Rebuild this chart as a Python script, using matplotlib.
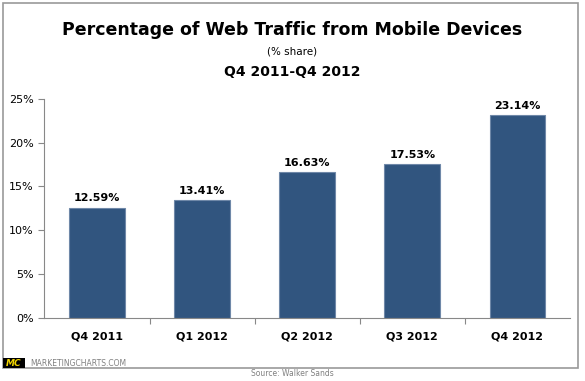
import matplotlib.pyplot as plt
from matplotlib.patches import Rectangle

quarters = ['Q4 2011', 'Q1 2012', 'Q2 2012', 'Q3 2012', 'Q4 2012']
share = [12.59, 13.41, 16.63, 17.53, 23.14]
yticks = [0, 5, 10, 15, 20, 25]

fig = plt.figure(figsize=(5.85, 3.81), dpi=100)
fig.patch.set_facecolor('white')

# outer frame
fig.add_artist(Rectangle((3 / 585, 1 - 368 / 381), 575 / 585, 365 / 381,
                         transform=fig.transFigure, fill=False,
                         edgecolor='#999999', linewidth=1.2))

fig.text(0.5, 1 - 30 / 381, 'Percentage of Web Traffic from Mobile Devices',
         ha='center', va='center', fontsize=12.5, fontweight='bold')
fig.text(0.5, 1 - 51 / 381, '(% share)', ha='center', va='center', fontsize=7.5)
fig.text(0.5, 1 - 72.5 / 381, 'Q4 2011-Q4 2012', ha='center', va='center',
         fontsize=10, fontweight='bold')

ax = fig.add_axes([44.5 / 585, 1 - 317.7 / 381, 525.5 / 585, 218.7 / 381])
x = range(len(quarters))
bars = ax.bar(x, share, width=0.53, color='#31557f', edgecolor='#6f88a8', linewidth=0.8)
for b, v in zip(bars, share):
    ax.text(b.get_x() + b.get_width() / 2, v + 0.5, f'{v:.2f}%', ha='center',
            va='bottom', fontsize=8, fontweight='bold')

ax.set_xlim(-0.5, len(quarters) - 0.5)
ax.set_ylim(0, 25)
ax.set_yticks(yticks)
ax.set_yticklabels([f'{t}%' for t in yticks], fontsize=8)
ax.set_xticks([i + 0.5 for i in range(len(quarters) - 1)], minor=False)
ax.set_xticklabels([])
ax.set_xticks(list(x), minor=True)
ax.set_xticklabels(quarters, minor=True, fontsize=8, fontweight='bold')
ax.tick_params(axis='x', which='minor', length=0, pad=10)
ax.tick_params(axis='x', which='major', length=4, color='#888888', direction='out')
ax.tick_params(axis='y', length=4, color='#888888', pad=4)
for s in ['top', 'right']:
    ax.spines[s].set_visible(False)
for s in ['left', 'bottom']:
    ax.spines[s].set_color('#888888')

# footer
fig.add_artist(Rectangle((3 / 585, 1 - 368 / 381), 22 / 585, 10 / 381,
                         transform=fig.transFigure, facecolor='black', edgecolor='none'))
fig.text(14 / 585, 1 - 363 / 381, 'MC', ha='center', va='center', fontsize=6.5,
         fontweight='bold', style='italic', color='#f2d600')
fig.text(30 / 585, 1 - 363 / 381, 'MARKETINGCHARTS.COM', ha='left', va='center',
         fontsize=5.5, color='#808080')
fig.text(0.5, 1 - 374 / 381, 'Source: Walker Sands', ha='center', va='center',
         fontsize=5.5, color='#808080')

fig.savefig('out.png', dpi=100)
